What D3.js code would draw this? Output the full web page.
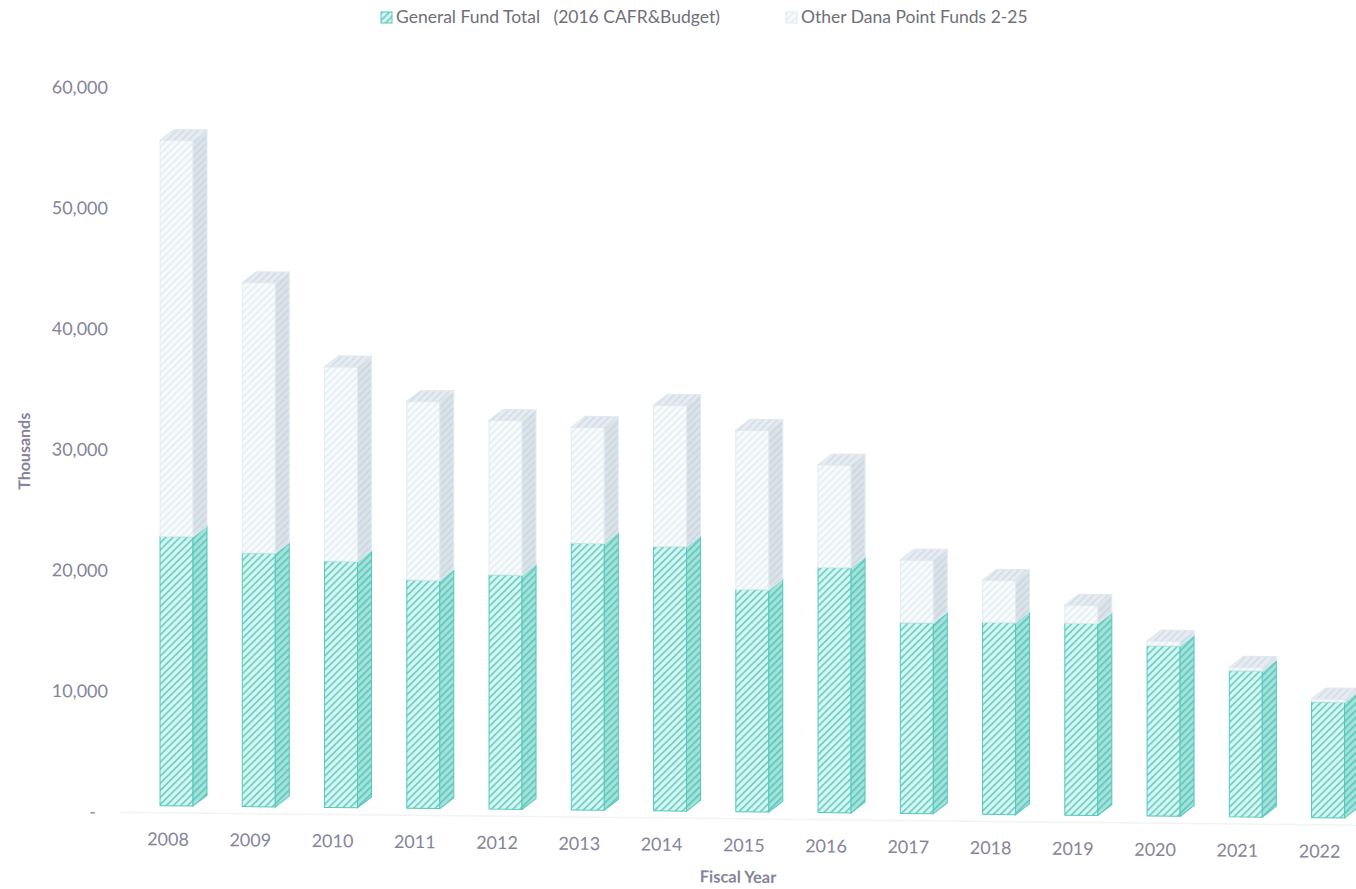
<!DOCTYPE html>
<html lang="en">
<head>
<meta charset="UTF-8">
<title>Dana Point Funds by Fiscal Year</title>
<style>
    body { margin: 0; background: #fff; }
    svg { display: block; font-family: Lato, "Open Sans", sans-serif; }
    .legend text { white-space: pre; }
</style>
</head>
<body>
<div id="chart"></div>
<script src="https://cdnjs.cloudflare.com/ajax/libs/d3/7.8.5/d3.min.js"></script>
<script>
// values (thousands)
const years = ["2008", "2009", "2010", "2011", "2012", "2013", "2014", "2015",
               "2016", "2017", "2018", "2019", "2020", "2021", "2022"];
const generalFund = [22300, 21000, 20400, 18900, 19400, 22100, 21900, 18400,
                     20300, 15800, 15900, 15900, 14100, 12100, 9600];
const otherFunds = [32800, 22400, 16100, 14800, 12800, 9600, 11700, 13200,
                    8500, 5200, 3500, 1500, 400, 300, 250];
const yTicks = [0, 10000, 20000, 30000, 40000, 50000, 60000];
const seriesNames = ["General Fund Total   (2016 CAFR&Budget)", "Other Dana Point Funds 2-25"];

const width = 1356, height = 889;
const depthX = 14, depthY = -11;   // 3d offset of the columns
const frontW = 33;

const svg = d3.select("#chart").append("svg")
    .attr("width", width)
    .attr("height", height);

const defs = svg.append("defs");

function hatch(id, bg, stripe, sw) {
    const p = defs.append("pattern")
        .attr("id", id)
        .attr("width", 5)
        .attr("height", 5)
        .attr("patternUnits", "userSpaceOnUse")
        .attr("patternTransform", "rotate(45)");
    p.append("rect").attr("width", 5).attr("height", 5).attr("fill", bg);
    p.append("line")
        .attr("x1", 1).attr("y1", 0).attr("x2", 1).attr("y2", 5)
        .attr("stroke", stripe)
        .attr("stroke-width", sw);
}
hatch("gfFront", "#d9f5f1", "#62cec3", 1.6);
hatch("gfSide", "#a6e2db", "#5fc9bd", 1.8);
hatch("gfTop", "#c2efe8", "#7fd6ca", 1.5);
hatch("otFront", "#f8fbfc", "#e3eef2", 1.6);
hatch("otSide", "#dbe3ea", "#ccd6df", 1.6);
hatch("otTop", "#e6ecf1", "#d3dde5", 1.6);

// the scan is slightly tilted, keep that look
const g = svg.append("g").attr("transform", "skewY(0.6)");

const x = d3.scalePoint()
    .domain(years)
    .range([126.4, 1360.2])
    .padding(0.5);

const y = d3.scaleLinear()
    .domain([0, 60000])
    .range([811, 86.5]);

const barShift = -7; // front face sits a bit above the axis zero

// floor line
g.append("line")
    .attr("x1", 120).attr("x2", width)
    .attr("y1", y(0)).attr("y2", y(0))
    .attr("stroke", "#f1f3f4")
    .attr("stroke-width", 1.5);

// y axis
const yAxis = d3.axisLeft(y)
    .tickValues(yTicks)
    .tickSize(0)
    .tickPadding(0)
    .tickFormat(d => d === 0 ? "-" : d3.format(",")(d));

const yAxisG = g.append("g")
    .attr("transform", "translate(108,0)")
    .call(yAxis);
yAxisG.select(".domain").remove();
yAxisG.selectAll("text")
    .attr("font-family", "Lato, sans-serif")
    .attr("font-size", 18)
    .attr("fill", "#85849a")
    .attr("dx", d => d === 0 ? -12 : 0);

// x axis labels
const xAxis = d3.axisBottom(x).tickSize(0).tickPadding(0);
const xAxisG = g.append("g")
    .attr("transform", "translate(0,831)")
    .call(xAxis);
xAxisG.select(".domain").remove();
xAxisG.selectAll("text")
    .attr("font-family", "Lato, sans-serif")
    .attr("font-size", 18)
    .attr("fill", "#85849a");

// stacked 3d columns
const stacks = years.map((yr, i) => {
    const gf = generalFund[i];
    const ot = otherFunds[i];
    return [
        { year: yr, v0: 0, v1: gf, key: "gf" },
        { year: yr, v0: gf, v1: gf + ot, key: "ot" }
    ];
});

const bars = g.append("g").selectAll("g")
    .data(stacks)
    .join("g");

function yb(v) { return y(v) + barShift; }
function left(d) { return x(d.year) - 7.5; }

bars.each(function(segs) {
    const sel = d3.select(this);
    segs.forEach(s => {
        const xl = left(s), xr = xl + frontW;
        const yt = yb(s.v1), ybot = yb(s.v0);
        const stroke = s.key === "gf" ? "#55c9bc" : "#e2ebf0";
        // front
        sel.append("rect")
            .attr("x", xl)
            .attr("y", yt)
            .attr("width", frontW)
            .attr("height", Math.max(0, ybot - yt))
            .attr("fill", `url(#${s.key}Front)`)
            .attr("stroke", stroke)
            .attr("stroke-width", 1);
        // side
        sel.append("path")
            .attr("d", `M${xr},${yt}L${xr + depthX},${yt + depthY}L${xr + depthX},${ybot + depthY}L${xr},${ybot}Z`)
            .attr("fill", `url(#${s.key}Side)`)
            .attr("stroke", stroke)
            .attr("stroke-width", 1);
    });
    // top face of the stack
    const top = segs[1];
    const xl = left(top), xr = xl + frontW, yt = yb(top.v1);
    sel.append("path")
        .attr("d", `M${xl},${yt}L${xr},${yt}L${xr + depthX},${yt + depthY}L${xl + depthX},${yt + depthY}Z`)
        .attr("fill", "url(#otTop)")
        .attr("stroke", "#e2e9ee")
        .attr("stroke-width", 1);
});

// axis titles
g.append("text")
    .attr("transform", "translate(30,451) rotate(-90)")
    .attr("text-anchor", "middle")
    .attr("font-size", 16)
    .attr("font-weight", "bold")
    .attr("fill", "#85849a")
    .text("Thousands");

g.append("text")
    .attr("x", 738)
    .attr("y", 875)
    .attr("text-anchor", "middle")
    .attr("font-size", 16.5)
    .attr("font-weight", "bold")
    .attr("fill", "#85849a")
    .text("Fiscal Year");

// legend
const legendX = [381, 786];
const legendFill = ["url(#gfFront)", "url(#otFront)"];
const legendStroke = ["#55c9bc", "#dfe9ee"];
const legend = svg.append("g").attr("class", "legend").selectAll("g")
    .data(seriesNames)
    .join("g")
    .attr("transform", (d, i) => `translate(${legendX[i]},12)`);
legend.append("rect")
    .attr("width", 11)
    .attr("height", 11)
    .attr("fill", (d, i) => legendFill[i])
    .attr("stroke", (d, i) => legendStroke[i]);
legend.append("text")
    .attr("x", 15)
    .attr("y", 11)
    .attr("font-size", 17.5)
    .attr("fill", "#6f6f78")
    .text(d => d);
</script>
</body>
</html>
